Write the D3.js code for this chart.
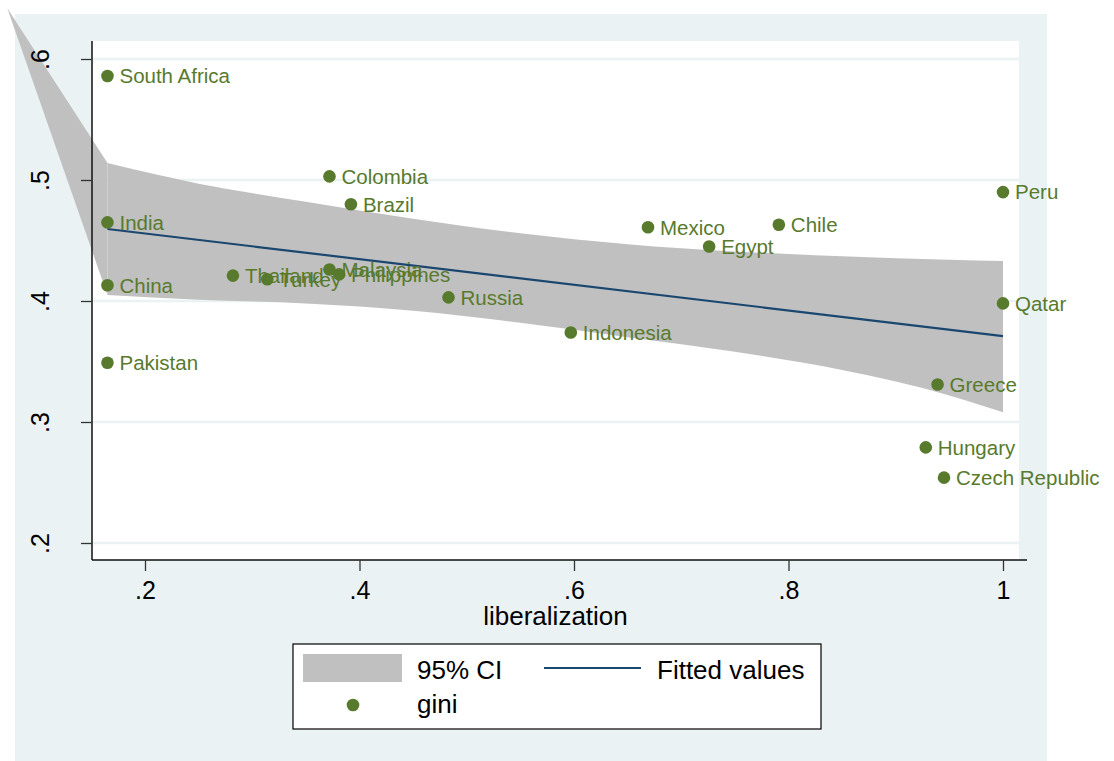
<!DOCTYPE html>
<html lang="en">
<head>
    <meta charset="UTF-8">
    <title>gini vs liberalization</title>
    <script src="https://d3js.org/d3.v7.min.js"></script>
    <style>
        body {
            margin: 0;
            padding: 0;
            background: #ffffff;
        }
        svg {
            display: block;
            font-family: "Liberation Sans", Arial, sans-serif;
        }
        .axis path.domain {
            stroke: #111;
            stroke-width: 1.5;
        }
        .axis .tick line {
            stroke: #333;
            stroke-width: 1.3;
        }
        .axis .tick text {
            fill: #000;
            font-size: 25px;
        }
    </style>
</head>
<body>
    <svg width="1114" height="761"></svg>

    <script>
        // countries and their (liberalization, gini) values
        const countries = ["South Africa", "India", "China", "Pakistan", "Colombia", "Brazil",
            "Thailand", "Turkey", "Malaysia", "Philippines", "Russia", "Indonesia",
            "Mexico", "Chile", "Egypt", "Peru", "Qatar", "Greece", "Hungary", "Czech Republic"];
        const liberalization = [0.165, 0.165, 0.165, 0.165, 0.372, 0.392,
            0.282, 0.314, 0.372, 0.381, 0.483, 0.597,
            0.669, 0.791, 0.726, 1.0, 1.0, 0.939, 0.928, 0.945];
        const gini = [0.586, 0.465, 0.413, 0.349, 0.503, 0.480,
            0.421, 0.418, 0.426, 0.422, 0.403, 0.374,
            0.461, 0.463, 0.445, 0.490, 0.398, 0.331, 0.279, 0.254];

        // fitted line end points
        const fitX = [0.165, 1.0];
        const fitY = [0.4595, 0.371];

        // 95% CI band
        const ciX = [0.165, 0.25, 0.35, 0.45, 0.55, 0.65, 0.75, 0.85, 0.95, 1.0];
        const ciUpper = [0.514, 0.497, 0.482, 0.468, 0.456, 0.447, 0.441, 0.437, 0.434, 0.433];
        const ciLower = [0.405, 0.401, 0.398, 0.392, 0.382, 0.370, 0.358, 0.343, 0.322, 0.308];
        // stray vertex of the band polygon that pokes out top-left in the original
        const ciStray = [0.0716, 0.642];

        const xTicks = [0.2, 0.4, 0.6, 0.8, 1];
        const yTicks = [0.2, 0.3, 0.4, 0.5, 0.6];

        const svg = d3.select("svg");
        const green = "#587a2d";
        const navy = "#1a476f";
        const bandGray = "#c0c0c0";
        const outerBg = "#eaf2f3";

        const plot = { left: 92, right: 1019, top: 41, bottom: 560 };

        const x = d3.scaleLinear().domain([0.2, 1]).range([145, 1003]);
        const y = d3.scaleLinear().domain([0.2, 0.6]).range([543, 59]);

        // graph region and plot region
        svg.append("rect")
            .attr("x", 15).attr("y", 14)
            .attr("width", 1047 - 15).attr("height", 761 - 14)
            .attr("fill", outerBg);
        svg.append("rect")
            .attr("x", plot.left).attr("y", plot.top)
            .attr("width", plot.right - plot.left).attr("height", plot.bottom - plot.top)
            .attr("fill", "#fff");

        // grid lines
        svg.append("g")
            .selectAll("line")
            .data(yTicks)
            .join("line")
            .attr("x1", plot.left).attr("x2", plot.right)
            .attr("y1", d => y(d)).attr("y2", d => y(d))
            .attr("stroke", outerBg)
            .attr("stroke-width", 2.5);

        // CI band (smooth edges) plus the stray triangle at its left end
        const band = ciX.map((v, i) => ({ x: v, hi: ciUpper[i], lo: ciLower[i] }));
        svg.append("path")
            .datum(band)
            .attr("d", d3.area()
                .x(d => x(d.x))
                .y0(d => y(d.lo))
                .y1(d => y(d.hi))
                .curve(d3.curveMonotoneX))
            .attr("fill", bandGray);
        const stray = [ciStray, [ciX[0], ciUpper[0]], [ciX[0], ciLower[0]]];
        svg.append("path")
            .attr("d", d3.line().x(d => x(d[0])).y(d => y(d[1]))(stray) + "Z")
            .attr("fill", bandGray);

        // fitted line
        svg.append("path")
            .attr("d", d3.line().x(d => x(d[0])).y(d => y(d[1]))(fitX.map((v, i) => [v, fitY[i]])))
            .attr("fill", "none")
            .attr("stroke", navy)
            .attr("stroke-width", 2.2);

        const tickFmt = d => d === 1 ? "1" : d3.format(".1f")(d).replace(/^0/, "");

        // x axis
        const xAxis = svg.append("g")
            .attr("class", "axis")
            .attr("transform", `translate(0,${plot.bottom})`)
            .call(d3.axisBottom(x).tickValues(xTicks).tickFormat(tickFmt).tickSize(11).tickSizeOuter(0));
        xAxis.select(".domain").attr("d", `M${plot.left},0H${plot.right + 8}`);
        xAxis.selectAll(".tick text").attr("y", 39).attr("dy", null);

        // y axis
        const yAxis = svg.append("g")
            .attr("class", "axis")
            .attr("transform", `translate(${plot.left},0)`)
            .call(d3.axisLeft(y).tickValues(yTicks).tickFormat(tickFmt).tickSize(11).tickSizeOuter(0));
        yAxis.select(".domain").attr("d", `M0,${plot.top}V${plot.bottom}`);
        yAxis.selectAll(".tick text")
            .attr("x", 0)
            .attr("y", -43)
            .attr("dy", null)
            .attr("text-anchor", "middle")
            .attr("transform", "rotate(-90)");

        // axis title
        svg.append("text")
            .attr("x", (plot.left + plot.right) / 2)
            .attr("y", 625)
            .attr("text-anchor", "middle")
            .attr("font-size", 26)
            .text("liberalization");

        // scatter points with labels
        const pts = countries.map((c, i) => ({ name: c, lib: liberalization[i], gini: gini[i] }));
        const ptG = svg.append("g");
        ptG.selectAll("circle")
            .data(pts)
            .join("circle")
            .attr("cx", d => x(d.lib))
            .attr("cy", d => y(d.gini))
            .attr("r", 6.3)
            .attr("fill", green);
        ptG.selectAll("text")
            .data(pts)
            .join("text")
            .attr("x", d => x(d.lib) + 12)
            .attr("y", d => y(d.gini))
            .attr("dy", "0.36em")
            .attr("font-size", 20.5)
            .attr("fill", green)
            .text(d => d.name);

        // legend
        const lg = svg.append("g");
        lg.append("rect")
            .attr("x", 293).attr("y", 644)
            .attr("width", 821 - 293).attr("height", 729 - 644)
            .attr("fill", "#fff")
            .attr("stroke", "#000")
            .attr("stroke-width", 1.2);
        lg.append("rect")
            .attr("x", 303).attr("y", 654)
            .attr("width", 99).attr("height", 28)
            .attr("fill", bandGray);
        lg.append("text")
            .attr("x", 417).attr("y", 679)
            .attr("font-size", 26)
            .text("95% CI");
        lg.append("line")
            .attr("x1", 544).attr("x2", 641)
            .attr("y1", 668).attr("y2", 668)
            .attr("stroke", navy)
            .attr("stroke-width", 2.2);
        lg.append("text")
            .attr("x", 657).attr("y", 679)
            .attr("font-size", 26)
            .text("Fitted values");
        lg.append("circle")
            .attr("cx", 353).attr("cy", 705)
            .attr("r", 6.3)
            .attr("fill", green);
        lg.append("text")
            .attr("x", 417).attr("y", 713)
            .attr("font-size", 26)
            .text("gini");
    </script>
</body>
</html>
